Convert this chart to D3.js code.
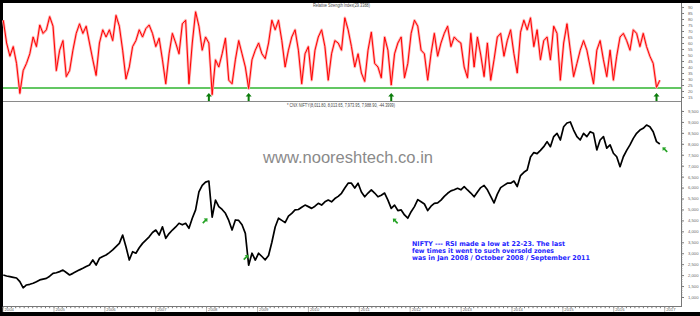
<!DOCTYPE html>
<html><head><meta charset="utf-8">
<script src="https://cdn.jsdelivr.net/npm/d3@7"></script>
<style>body{margin:0;background:#000;} svg{display:block}</style>
</head><body>
<svg id="c" width="700" height="316"></svg>
<script>
// ---------- DATA ----------
const seriesStart = "2004-01-03";
const seriesEnd = "2016-11-27";
const rsiValues = [
79,60,49,57,43,18,37,43,51,65,57,75,68,71,82,74,37,54,62,32,
37,54,68,76,68,74,60,46,33,60,71,65,71,62,83,74,54,30,40,57,
62,71,65,72,75,68,57,64,46,26,51,68,60,51,76,79,26,60,86,74,
54,65,60,17,46,40,51,64,29,26,46,62,51,40,22,46,54,60,51,47,
60,79,71,79,62,40,54,65,71,54,26,51,57,29,54,65,71,57,29,51,
62,60,54,81,71,57,40,51,35,28,54,69,43,40,31,65,54,25,51,60,
65,31,43,68,79,74,54,51,29,51,68,49,60,68,74,57,65,62,60,40,
31,68,40,65,50,32,60,29,46,65,68,49,62,71,51,35,69,79,71,81,
57,71,46,62,65,46,74,68,29,60,76,54,32,43,54,62,54,40,26,54,
62,46,32,54,29,49,65,68,62,54,71,68,57,68,57,49,43,23,29
];
const priceValues = [
2005,1960,1930,1900,1870,1700,1420,1550,1580,1630,1700,1780,1820,1850,1950,2080,2110,2160,2230,2120,
2005,2080,2160,2240,2310,2390,2460,2690,2460,2770,2850,2920,3030,3150,3300,3450,3830,3300,2690,3070,
3000,3250,3450,3600,3750,3950,4060,3830,4210,3680,3900,4060,4200,4370,4300,4370,4140,4600,4980,5800,
6100,6250,6300,4650,5430,5130,5000,4825,4500,4060,4520,4500,4300,3910,2450,3000,2690,3000,2850,2700,
2900,3500,4200,4600,4500,4400,4700,4825,4980,5000,5100,5200,5130,5050,5150,5280,5200,5350,5430,5350,
5500,5600,5740,5980,6200,6200,5980,6200,5800,5580,5750,5900,5750,5580,5650,5750,5430,5050,5200,4950,
4980,4750,4600,4900,5130,5450,5350,5250,4950,5150,5280,5300,5430,5600,5740,5850,5900,5970,5900,6045,
5890,5750,5580,5800,6000,6100,5900,5600,5300,5700,6000,6100,6200,6200,6300,6050,6550,6700,6800,7400,
7600,7550,7700,7870,8100,7870,8330,8480,8175,8780,8950,9000,8630,8330,8175,8480,8330,8555,8480,7720,
8175,8330,7800,7950,7570,7410,6955,7410,7700,7950,8250,8480,8630,8710,8860,8780,8555,8100,7990
];
const rsiTicks = [15,20,25,30,35,40,45,50,55,60,65,70,75,80,85,90];
const priceTicks = [1000,1500,2000,2500,3000,3500,4000,4500,5000,5500,6000,6500,7000,7500,8000,8500,9000,9500];
const yearLabels = ["2004","2005","2006","2007","2008","2009","2010","2011","2012","2013","2014","2015","2016","2017"];
const oversoldLevel = 22.5;
const rsiArrowIdx = [63, 75, 118, 198];
const rsiTitle = "Relative Strength Index(29.3388)";
const priceTitle = "* CNX NIFTY(8,011.80, 8,013.65, 7,973.95, 7,988.90, -44.3999)";
const watermark = "www.nooreshtech.co.in";
const noteLines = [
  "NIFTY --- RSI made a low at 22-23. The last",
  "few times it went to such oversold zones",
  "was in Jan 2008 / October 2008 / September 2011"
];

// ---------- DRAW ----------
const svg = d3.select("#c");
const FONT = "'Liberation Sans', Arial, sans-serif";
svg.append("rect").attr("width",700).attr("height",316).attr("fill","#000");
svg.append("rect").attr("x",3).attr("y",3).attr("width",697).attr("height",309).attr("fill","#fff");

const parse = d3.timeParse("%Y-%m-%d");
const t0 = parse(seriesStart), t1 = parse(seriesEnd);
const n = rsiValues.length;
const idxToTime = d3.scaleLinear().domain([1, n]).range([t0.getTime(), t1.getTime()]);
const dates = rsiValues.map((_, i) => new Date(idxToTime(i + 1)));

const x = d3.scaleTime().domain([new Date(2004,0,1), new Date(2017,0,1)]).range([3, 664.7]);
const yR = d3.scaleLinear().domain([15, 90]).range([97, 7]);
const yP = d3.scaleLinear().domain([1000, 9500]).range([297, 111]);
const axisRight = 681.5;

// panel separator
svg.append("line").attr("x1",3).attr("x2",axisRight).attr("y1",101.5).attr("y2",101.5)
  .attr("stroke","#8a8a8a").attr("stroke-width",1);

// oversold line
svg.append("line").attr("x1",3).attr("x2",axisRight).attr("y1",yR(oversoldLevel)).attr("y2",yR(oversoldLevel))
  .attr("stroke","#2fb52f").attr("stroke-width",1.4);

// RSI line
const rsiLine = d3.line().x((d,i)=>x(dates[i])).y(d=>yR(d));
svg.append("path").datum(rsiValues).attr("d",rsiLine).attr("fill","none")
  .attr("stroke","#ffb0b0").attr("stroke-width",2.6).attr("stroke-linejoin","round");
svg.append("path").datum(rsiValues).attr("d",rsiLine).attr("fill","none")
  .attr("stroke","#f00").attr("stroke-width",1).attr("stroke-linejoin","round");

// price line
const priceLine = d3.line().x((d,i)=>x(dates[i])).y(d=>yP(d));
svg.append("path").datum(priceValues).attr("d",priceLine).attr("fill","none")
  .attr("stroke","#000").attr("stroke-width",1.7).attr("stroke-linejoin","round");

// up arrow path centered at 0,0 (height ~8)
const arrowPath = "M0,-4 L3,-0.5 L1,-0.5 L1,4 L-1,4 L-1,-0.5 L-3,-0.5 Z";
rsiArrowIdx.forEach(i => {
  svg.append("path").attr("d",arrowPath)
    .attr("transform",`translate(${x(dates[i-1])},${yR(oversoldLevel)+9})`)
    .attr("fill","#0b7d0b");
});
// price arrows (anchored to data points)
const priceArrows = [
  {i:64, dx:-7, dy:3.5, rot:45},
  {i:75, dx:-2.5, dy:-8, rot:45},
  {i:118, dx:4, dy:12.5, rot:-45},
  {i:199, dx:5, dy:5.5, rot:-45}
];
priceArrows.forEach(a => {
  const cx = x(dates[a.i-1]) + a.dx, cy = yP(priceValues[a.i-1]) + a.dy;
  svg.append("path").attr("d",arrowPath)
    .attr("transform",`translate(${cx},${cy}) rotate(${a.rot}) scale(0.85)`)
    .attr("fill","#25a325");
});

// right axis
svg.append("line").attr("x1",axisRight).attr("x2",axisRight).attr("y1",3).attr("y2",307)
  .attr("stroke","#777").attr("stroke-width",1);
const gR = svg.append("g").attr("transform",`translate(${axisRight},0)`);
gR.call(d3.axisRight(yR).tickValues(rsiTicks).tickSize(2.5).tickPadding(4));
const gP = svg.append("g").attr("transform",`translate(${axisRight},0)`);
gP.call(d3.axisRight(yP).tickValues(priceTicks).tickSize(2.5).tickPadding(4));
[gR,gP].forEach(g=>{
  g.select(".domain").remove();
  g.selectAll("line").attr("stroke","#777");
  g.selectAll("text").attr("font-family",FONT).attr("font-size",4.2).attr("fill","#666");
});
// minor ticks
d3.range(1000, 9600, 100).forEach(v=>{
  svg.append("line").attr("x1",axisRight).attr("x2",axisRight+1.2).attr("y1",yP(v)).attr("y2",yP(v)).attr("stroke","#999").attr("stroke-width",0.6);
});
d3.range(15, 91, 1).forEach(v=>{
  svg.append("line").attr("x1",axisRight).attr("x2",axisRight+1.2).attr("y1",yR(v)).attr("y2",yR(v)).attr("stroke","#aaa").attr("stroke-width",0.5);
});

// bottom axis
const axY = 306.5;
svg.append("line").attr("x1",3).attr("x2",axisRight).attr("y1",axY).attr("y2",axY)
  .attr("stroke","#777").attr("stroke-width",1);
d3.timeMonth.range(new Date(2004,0,1), new Date(2017,3,1)).forEach(m=>{
  svg.append("rect").attr("x",x(m)-0.5).attr("y",axY+0.5).attr("width",1).attr("height",1.2).attr("fill","#777");
});
yearLabels.forEach(yl=>{
  const xx = x(parse(yl+"-01-01"));
  svg.append("line").attr("x1",xx).attr("x2",xx).attr("y1",axY).attr("y2",312).attr("stroke","#999").attr("stroke-width",0.7);
  svg.append("text").attr("x",xx+1.5).attr("y",311.3).text(yl)
    .attr("font-family",FONT).attr("font-size",4.2).attr("fill","#666");
});

// titles
svg.append("text").attr("x",313).attr("y",7).text(rsiTitle)
  .attr("font-family",FONT).attr("font-size",4.5).attr("fill","#444")
  .attr("textLength",57).attr("lengthAdjust","spacingAndGlyphs");
svg.append("text").attr("x",287).attr("y",106.5).text(priceTitle)
  .attr("font-family",FONT).attr("font-size",4.5).attr("fill","#444")
  .attr("textLength",108).attr("lengthAdjust","spacingAndGlyphs");

// watermark
svg.append("text").attr("x",263).attr("y",163).text(watermark)
  .attr("font-family",FONT).attr("font-size",16).attr("fill","#8a8a8a")
  .attr("textLength",170).attr("lengthAdjust","spacingAndGlyphs");

// note
const noteW = [153, 142, 178];
noteLines.forEach((l,k)=>{
  svg.append("text").attr("x",412).attr("y",245.5 + k*7.2).text(l)
    .attr("font-family","'DejaVu Sans', Verdana, sans-serif").attr("font-weight","bold")
    .attr("font-size",6.6).attr("fill","#2424ff")
    .attr("textLength",noteW[k]).attr("lengthAdjust","spacingAndGlyphs");
});
</script>
</body></html>
